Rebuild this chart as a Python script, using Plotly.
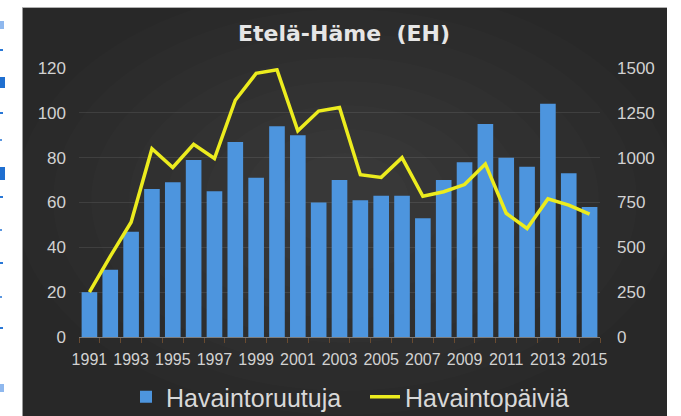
import plotly.graph_objects as go

# Etelä-Häme (EH) yearly data
years = list(range(1991, 2016))
havaintoruutuja = [20, 30, 47, 66, 69, 79, 65, 87, 71, 94, 90, 60, 70,
                   61, 63, 63, 53, 70, 78, 95, 80, 76, 104, 73, 58]
havaintopaivia = [250, 450, 640, 1050, 945, 1075, 995, 1320, 1470, 1490, 1150, 1260, 1280,
                  905, 890, 1000, 785, 810, 850, 965, 690, 605, 770, 735, 685]
year_ticks = list(range(1991, 2016, 2))
left_ticks = [0, 20, 40, 60, 80, 100, 120]
right_ticks = [0, 250, 500, 750, 1000, 1250, 1500]

W, H = 681, 416
L, R, T, B = 79, 81, 68, 79
PW, PH = W - L - R, H - T - B


def px(x):
    return (x - L) / PW


def py(y):
    return (H - B - y) / PH


font = "Arial, Liberation Sans, sans-serif"
bg = "#282828"

fig = go.Figure()
fig.add_trace(go.Bar(
    x=years, y=havaintoruutuja, name="Havaintoruutuja",
    marker=dict(color="#4d95de", line=dict(width=0)),
))
fig.add_trace(go.Scatter(
    x=years, y=havaintopaivia, name="Havaintopäiviä", yaxis="y2",
    mode="lines", line=dict(color="#ecec1e", width=3.5),
))

shapes = []
# soft lighter centre of the dark panel
cx, cy = 345, 200
for i in range(8):
    rx, ry = 330 - i * 38, 215 - i * 24
    shapes.append(dict(type="circle", xref="paper", yref="paper", layer="below",
                       x0=px(cx - rx), x1=px(cx + rx), y0=py(cy + ry), y1=py(cy - ry),
                       fillcolor="rgba(255,255,255,0.012)", line_width=0))

# white page strips around the dark chart panel + bits of cut-off text
shapes += [
    dict(type="rect", xref="paper", yref="paper", x0=px(0), x1=px(22), y0=py(H), y1=py(0),
         fillcolor="white", line_width=0),
    dict(type="rect", xref="paper", yref="paper", x0=px(0), x1=px(W), y0=py(7), y1=py(0),
         fillcolor="white", line_width=0),
    dict(type="rect", xref="paper", yref="paper", x0=px(667), x1=px(W), y0=py(H), y1=py(0),
         fillcolor="white", line_width=0),
    dict(type="line", xref="paper", yref="paper", x0=px(22.5), x1=px(22.5), y0=py(H), y1=py(7),
         line=dict(color="#9a9a9a", width=1)),
    dict(type="line", xref="paper", yref="paper", x0=px(22), x1=px(667), y0=py(7.5), y1=py(7.5),
         line=dict(color="#b0b0b0", width=1)),
]
marks = [(21, 29, 4, "#8fb8ee"), (49, 51, 3, "#2a78d6"), (77, 88, 5, "#1f6fd0"),
         (112, 114, 3, "#2a78d6"), (139, 141, 2, "#5b97e0"), (167, 180, 5, "#1f6fd0"),
         (196, 198, 3, "#2a78d6"), (229, 231, 2, "#5b97e0"), (262, 264, 3, "#2a78d6"),
         (296, 298, 2, "#5b97e0"), (327, 329, 3, "#2a78d6"), (384, 392, 4, "#8fb8ee")]
for y0, y1, w, c in marks:
    shapes.append(dict(type="rect", xref="paper", yref="paper", x0=px(0), x1=px(w),
                       y0=py(y1), y1=py(y0), fillcolor=c, line_width=0))

fig.update_layout(
    width=W, height=H,
    margin=dict(l=L, r=R, t=T, b=B, autoexpand=False),
    paper_bgcolor=bg, plot_bgcolor="rgba(0,0,0,0)",
    font=dict(family=font, color="#d2d2d2"),
    title=dict(text="<b>Etelä-Häme  (EH)</b>", x=344 / W, xref="container", xanchor="center",
               y=1 - 33 / H, yref="container", yanchor="middle",
               font=dict(family="DejaVu Sans, sans-serif", size=22, color="#e6e6e6")),
    bargap=0.25,
    showlegend=True,
    legend=dict(orientation="h", x=px(126), xanchor="left",
                y=(H - 397) / H, yref="container", yanchor="middle",
                font=dict(size=25, color="#d8d8d8"), bgcolor="rgba(0,0,0,0)",
                entrywidth=194, entrywidthmode="pixels"),
    xaxis=dict(range=[1990.5, 2015.5], tickvals=year_ticks, ticks="", showgrid=False,
               showline=True, linecolor="#7c7c7c", linewidth=1, zeroline=False,
               tickfont=dict(size=16, color="#d2d2d2"), ticklabelstandoff=8,
               minor=dict(tick0=0.5, dtick=1, ticks="outside", ticklen=5, tickcolor="#6a4b30",
                          showgrid=False)),
    yaxis=dict(range=[0, 120], tickvals=left_ticks, showgrid=True,
               gridcolor="rgba(255,255,255,0.09)", gridwidth=1, zeroline=False,
               tickfont=dict(size=17, color="#d2d2d2"), ticklabelstandoff=12),
    yaxis2=dict(range=[0, 1500], tickvals=right_ticks, overlaying="y", side="right",
                showgrid=False, zeroline=False,
                tickfont=dict(size=17, color="#d2d2d2"), ticklabelstandoff=16),
    shapes=shapes,
)

fig.write_html("out.html", config={"displayModeBar": False},
               post_script="document.body.style.margin='0';")
